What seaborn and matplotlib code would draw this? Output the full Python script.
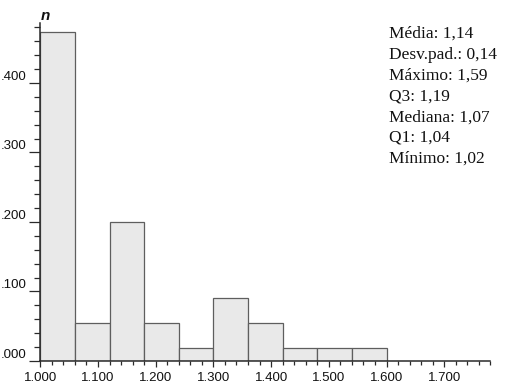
import numpy as np
import matplotlib
matplotlib.use("Agg")
import matplotlib.pyplot as plt
from matplotlib.ticker import MultipleLocator, FormatStrFormatter, FuncFormatter
import seaborn as sns

# Histogram bins (class limits) and relative frequency of each class
bin_edges = [1.00, 1.06, 1.12, 1.18, 1.24, 1.30, 1.36, 1.42, 1.48, 1.54, 1.60]
rel_freq = [0.4727, 0.0545, 0.2000, 0.0545, 0.0182, 0.0909, 0.0545, 0.0182, 0.0182, 0.0182]

# Summary statistics shown beside the histogram
stat_labels = ["Média", "Desv.pad.", "Máximo", "Q3", "Mediana", "Q1", "Mínimo"]
stat_values = ["1,14", "0,14", "1,59", "1,19", "1,07", "1,04", "1,02"]

sns.set_style("ticks")
plt.rcParams["font.family"] = ["Liberation Sans", "DejaVu Sans"]

W, H = 508, 387
fig = plt.figure(figsize=(W / 100, H / 100), dpi=100)
ax = fig.add_axes([40.3 / W, 26 / H, (490.4 - 40.3) / W, (361 - 22.7) / H])

centers = [(a + b) / 2 for a, b in zip(bin_edges[:-1], bin_edges[1:])]
sns.histplot(x=centers, weights=rel_freq, bins=bin_edges, stat="count",
             color="#e9e9e9", edgecolor="#5e5e5e", linewidth=0.9,
             alpha=1.0, ax=ax)

ax.set_xlim(1.0, 1.78)
ax.set_ylim(0, 0.4867)
ax.set_xlabel("")
ax.set_ylabel("")

ax.xaxis.set_major_locator(MultipleLocator(0.1))
ax.xaxis.set_minor_locator(MultipleLocator(0.02))
ax.yaxis.set_major_locator(MultipleLocator(0.1))
ax.yaxis.set_minor_locator(MultipleLocator(0.02))
ax.xaxis.set_major_formatter(FormatStrFormatter("%.3f"))
# proportions written without the leading zero
ax.yaxis.set_major_formatter(FuncFormatter(lambda v, p: f"{v:.3f}".lstrip("0")))

spine_col = "#2a2a2a"
for s in ["top", "right"]:
    ax.spines[s].set_visible(False)
for s in ["left", "bottom"]:
    ax.spines[s].set_color(spine_col)
    ax.spines[s].set_linewidth(1.1)

ax.tick_params(axis="x", which="major", length=4.5, width=0.9, color=spine_col,
               labelsize=9.5, pad=3.5, labelcolor="#111111")
ax.tick_params(axis="x", which="minor", length=3.0, width=0.9, color=spine_col)
ax.tick_params(axis="y", which="major", length=8.0, width=0.9, color=spine_col,
               labelsize=9.5, pad=2.2, labelcolor="#111111")
ax.tick_params(axis="y", which="minor", length=4.3, width=0.9, color=spine_col)
for lab in ax.get_yticklabels():
    lab.set_verticalalignment("bottom")

fig.text(45 / W, 1 - 15.5 / H, "n", ha="center", va="center",
         fontsize=11, fontweight="bold", fontstyle="italic", color="#111111")

stats_text = "\n".join(f"{k}: {v}" for k, v in zip(stat_labels, stat_values))
fig.text(389 / W, 1 - 26 / H, stats_text, ha="left", va="top",
         fontsize=12.5, family=["Liberation Serif", "DejaVu Serif"],
         linespacing=1.4, color="#111111")

fig.savefig("out.png", dpi=100)
